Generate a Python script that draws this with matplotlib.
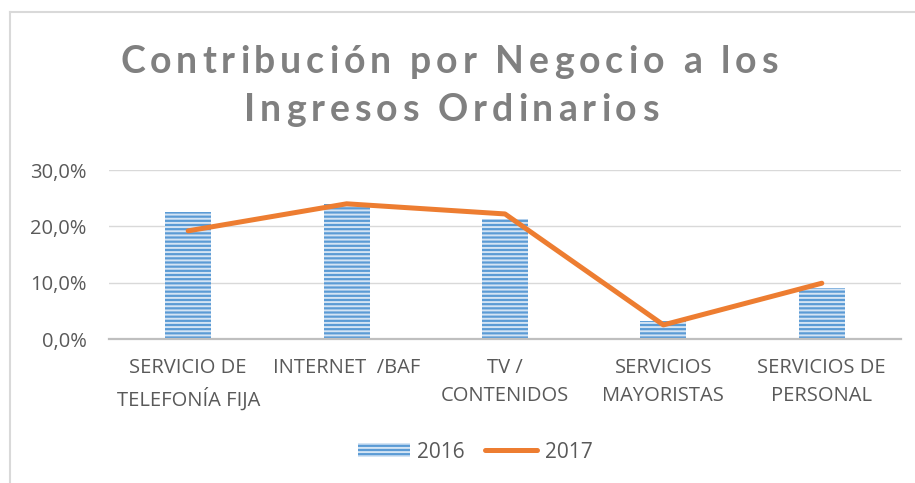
import matplotlib
matplotlib.use("Agg")
import matplotlib.pyplot as plt
from matplotlib.patches import Patch
from matplotlib.lines import Line2D
from matplotlib.ticker import FuncFormatter
from matplotlib.font_manager import FontProperties

categories = ["SERVICIO DE\nTELEFONÍA FIJA", "INTERNET  /BAF", "TV /\nCONTENIDOS",
              "SERVICIOS\nMAYORISTAS", "SERVICIOS DE\nPERSONAL"]
values_2016 = [0.226, 0.240, 0.213, 0.032, 0.091]
values_2017 = [0.192, 0.240, 0.222, 0.025, 0.099]
series_names = ["2016", "2017"]
title_lines = ["Contribución por Negocio a los", "Ingresos Ordinarios"]
yticks = [0.0, 0.10, 0.20, 0.30]

FONT = "Lato"
LFONT = "Open Sans"
TXT = "#595959"
plt.rcParams["font.family"] = [LFONT, "DejaVu Sans"]
plt.rcParams["hatch.linewidth"] = 1.4

W, H = 915, 483
fig = plt.figure(figsize=(W / 100, H / 100), dpi=100)

# partial frame (top and left)
fig.add_artist(Line2D([10 / W, 10 / W], [0, 1 - 12 / H], transform=fig.transFigure,
                      color="#d9d9d9", lw=1.5))
fig.add_artist(Line2D([10 / W, 1], [1 - 12 / H, 1 - 12 / H], transform=fig.transFigure,
                      color="#d9d9d9", lw=1.5))

ax = fig.add_axes([109 / W, 1 - 339 / H, (901 - 109) / W, (339 - 170) / H])
x = list(range(len(categories)))
ax.bar(x, values_2016, width=0.29, color="#5B9BD5", edgecolor="#d4e4f4",
       linewidth=0, hatch="----", zorder=2)
ax.plot(x, values_2017, color="#ED7D31", lw=3.6, solid_capstyle="round",
        solid_joinstyle="round", zorder=3)

ax.set_xlim(-0.5, len(categories) - 0.5)
ax.set_ylim(0, 0.30)
ax.set_yticks(yticks)
ax.yaxis.set_major_formatter(FuncFormatter(lambda v, p: f"{v*100:.1f}%".replace(".", ",")))
ax.grid(axis="y", color="#d9d9d9", lw=1)
ax.set_axisbelow(True)
for s in ["top", "right", "left"]:
    ax.spines[s].set_visible(False)
ax.spines["bottom"].set_color("#bfbfbf")
ax.spines["bottom"].set_linewidth(1.6)
ax.spines["bottom"].set_zorder(4)
ax.set_xticks(x)
ax.set_xticklabels(categories, linespacing=1.49)
ax.tick_params(axis="both", length=0, labelsize=14.5, labelcolor=TXT)
ax.tick_params(axis="x", pad=14)
ax.tick_params(axis="y", pad=16)

# title with letter spacing
renderer = fig.canvas.get_renderer()
tprops = dict(fontsize=27, fontweight="bold", color="#808080", family=FONT)
fp = FontProperties(family=FONT, weight="bold", size=27)

def char_w(c):
    w, h, d = renderer.get_text_width_height_descent(c, fp, ismath=False)
    return w

target_w = 658.0
widths1 = [char_w(c) for c in title_lines[0]]
track = (target_w - sum(widths1)) / (len(title_lines[0]) - 1)
centers = [449, 451]
ys = [62, 110]
for line, cx, yc in zip(title_lines, centers, ys):
    ws = [char_w(c) for c in line]
    total = sum(ws) + track * (len(line) - 1)
    xp = cx - total / 2
    for c, w in zip(line, ws):
        fig.text(xp / W, 1 - yc / H, c, ha="left", va="center", **tprops)
        xp += w + track

handles = [Patch(facecolor="#5B9BD5", edgecolor="#d4e4f4", linewidth=0, hatch="----"),
           Line2D([], [], color="#ED7D31", lw=3.6, solid_capstyle="round")]
fig.legend(handles, series_names, loc="center", bbox_to_anchor=(475 / W, 1 - 452 / H),
           ncol=2, frameon=False, fontsize=15, labelcolor=TXT, handlelength=2.5,
           handleheight=0.65, columnspacing=1.0, handletextpad=0.35)

fig.savefig("out.png", dpi=100)
